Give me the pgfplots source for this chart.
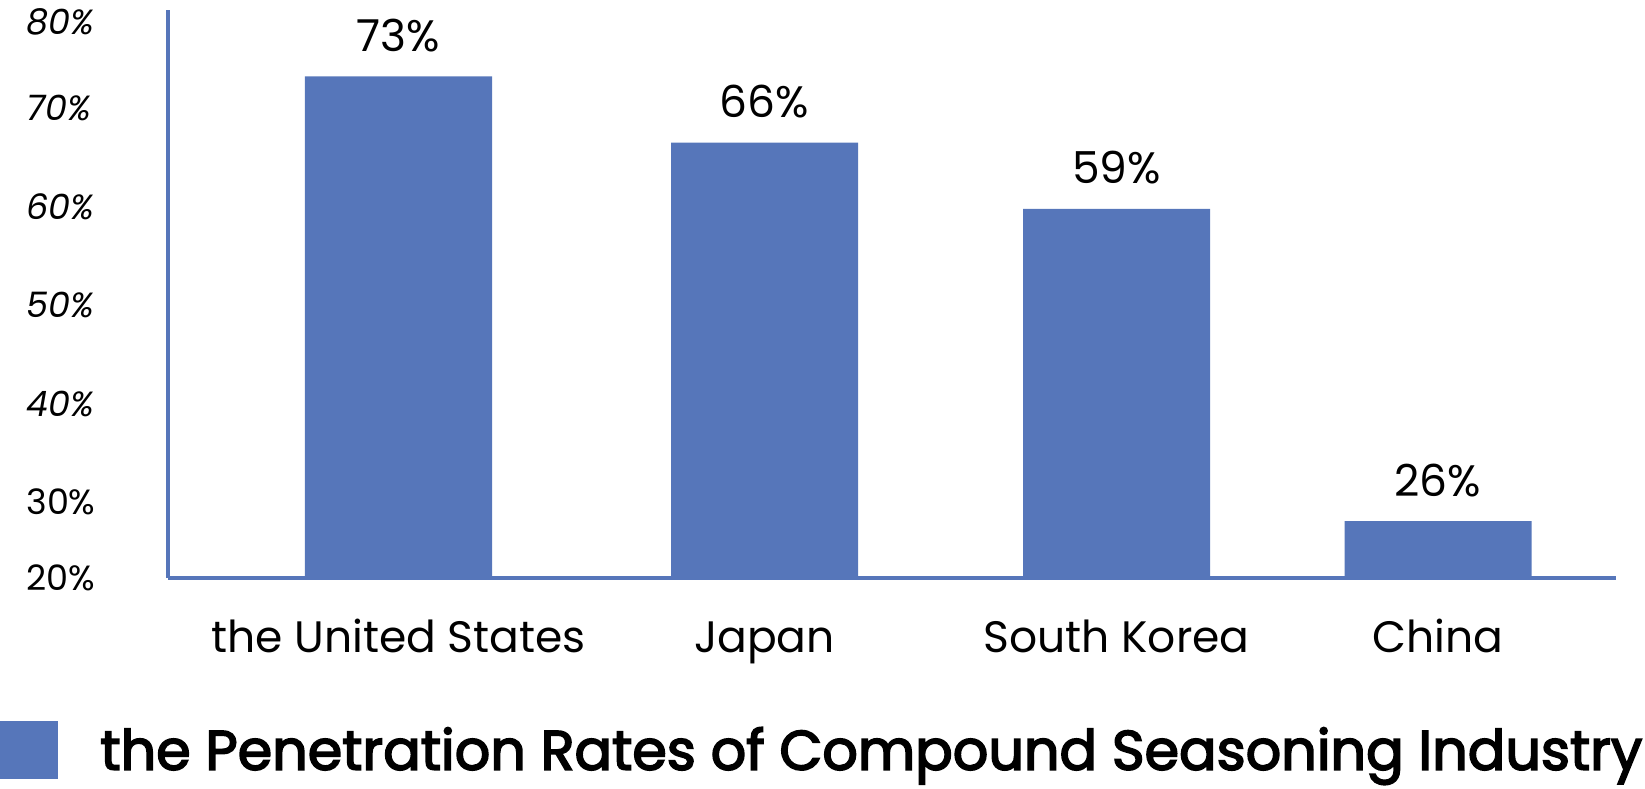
\documentclass[border=0pt]{standalone}
\usepackage{pgfplots}
\pgfplotsset{compat=1.18}
\usepackage{fontspec}
\setmainfont{Poppins}
\newfontfamily\legendfont{Poppins}[FakeBold=3]
\definecolor{barblue}{RGB}{86,118,186}

\begin{document}
\begin{tikzpicture}
\begin{axis}[
  at={(0,0)}, anchor=south west,
  scale only axis, width=724pt, height=284pt,
  xmin=168, xmax=1616, ymin=20, ymax=80,
  axis x line=bottom, axis y line=left,
  axis line style={-, barblue, line width=2pt},
  major tick length=0pt,
  /pgf/number format/assume math mode=true,
  xtick={398.5,764.5,1116.5,1438},
  xticklabels={the United States, Japan, South Korea, China},
  x tick label style={font=\fontsize{22}{26}\selectfont, anchor=base, inner sep=0pt, yshift=-37pt},
  ytick={20,28.1,38.4,48.8,59.2,69.6,78.8},
  yticklabels={20\%, 30\%, \textit{40\%}, \textit{50\%}, \textit{60\%}, \textit{70\%}, \textit{80\%}},
  y tick label style={font=\fontsize{17.5}{21}\selectfont, anchor=west, inner sep=0pt, xshift=-71pt},
  ybar, bar width=187, bar shift=0pt,
  nodes near coords={\pgfmathprintnumber{\pgfplotspointmeta}\%},
  nodes near coords style={font=\fontsize{22}{26}\selectfont, anchor=south, inner sep=0pt, yshift=12pt, black},
  legend style={at={(0,0)}, anchor=west, xshift=-84pt, yshift=-86pt, draw=none, fill=none,
    inner sep=0pt, column sep=21pt, nodes={inner sep=0pt},
    font=\fontsize{27.8}{32}\legendfont},
  legend image code/.code={\fill[barblue] (0pt,-14.5pt) rectangle (29pt,14.5pt);},
]
\addplot[fill=barblue, draw=none] coordinates {(398.5,73) (764.5,66) (1116.5,59) (1438,26)};
\addlegendentry{the Penetration Rates of Compound Seasoning Industry}
\end{axis}
\pgfresetboundingbox
\path[use as bounding box] (-84pt,-105pt) rectangle (738.5pt,289pt);
\end{tikzpicture}
\end{document}
